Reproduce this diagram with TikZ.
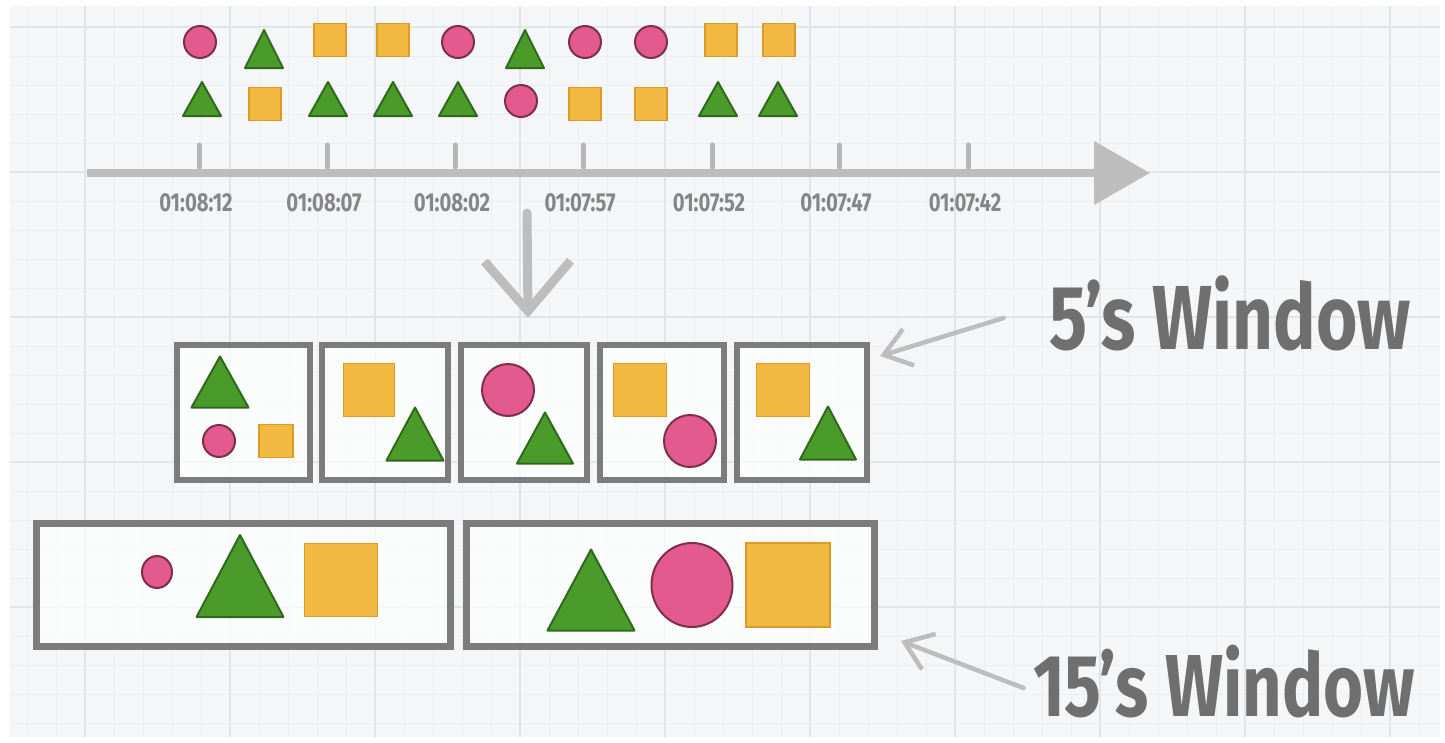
\documentclass[tikz,border=0pt]{standalone}
\usepackage{fontspec}
\newfontfamily\handfont[FakeStretch=0.78]{Fira Sans}
\usetikzlibrary{arrows.meta,shapes.geometric,calc}

\definecolor{paper}{HTML}{F4F6F8}
\definecolor{gridmajor}{HTML}{DEE5EB}
\definecolor{gridminor}{HTML}{EBEFF3}
\definecolor{dotpink}{HTML}{E35A8E}
\definecolor{dotedge}{HTML}{7E2F4E}
\definecolor{trigreen}{HTML}{4B9B2A}
\definecolor{triedge}{HTML}{2F6A1C}
\definecolor{sqyellow}{HTML}{F2B942}
\definecolor{sqedge}{HTML}{DE9A22}
\definecolor{pencil}{HTML}{7C7C7C}
\definecolor{chalk}{HTML}{BDBDBD}
\definecolor{inkgray}{HTML}{6F6F6F}

\tikzset{
  pinkdot/.style={ellipse, draw=dotedge, fill=dotpink, line width=2pt, inner sep=0pt},
  yellowsq/.style={rectangle, draw=sqedge, fill=sqyellow, line width=1.5pt, inner sep=0pt},
  greentri/.style={draw=triedge, fill=trigreen, line width=2pt, line join=round},
  winbox/.style={rectangle, draw=pencil, line width=6pt, fill=white, fill opacity=0.7, inner sep=0pt},
  ticklabel/.style={text=gray!95, font=\handfont\bfseries\fontsize{26}{26}\selectfont},
  bigtext/.style={text=inkgray, font=\handfont\bfseries\fontsize{91}{91}\selectfont},
  callout/.style={draw=chalk, line width=4.5pt, line cap=round, -{Straight Barb[length=26pt,width=38pt]}},
}

% triangle: centre x, centre y, base, height
\newcommand{\tri}[4]{\draw[greentri] ({#1-#3/2},{#2+#4/2}) -- (#1,{#2-#4/2}) -- ({#1+#3/2},{#2+#4/2}) -- cycle;}

\begin{document}
\begin{tikzpicture}[x=1pt,y=-1pt]
  \useasboundingbox (0,0) rectangle (1445,742);
  % paper
  \fill[white] (0,0) rectangle (1445,742);
  \fill[paper] (10,6) rectangle (1440,737);
  \foreach \k in {-2,...,46}
    \draw[gridminor, line width=0.8pt] ({85+29*\k},6) -- ({85+29*\k},737);
  \foreach \k in {0,...,24}
    \draw[gridminor, line width=0.8pt] (10,{27+29*\k}) -- (1440,{27+29*\k});
  \foreach \k in {0,...,9}
    \draw[gridmajor, line width=1.2pt] ({85+145*\k},6) -- ({85+145*\k},737);
  \foreach \k in {0,...,4}
    \draw[gridmajor, line width=1.2pt] (10,{27+145*\k}) -- (1440,{27+145*\k});

  % incoming events
  \foreach \x [count=\i] in {200,458,585,651}
    \node[pinkdot, minimum width=32pt, minimum height=32pt] (rowa-c\i) at (\x,42) {};
  \foreach \x [count=\i] in {330,393,721,779}
    \node[yellowsq, minimum width=32pt, minimum height=33pt] (rowa-s\i) at (\x,40) {};
  \foreach \x in {264,525}
    {\tri{\x}{49}{38}{38}}
  \node[pinkdot, minimum width=32pt, minimum height=32pt] (rowb-c1) at (521,101) {};
  \foreach \x [count=\i] in {265,585,651}
    \node[yellowsq, minimum width=32pt, minimum height=33pt] (rowb-s\i) at (\x,104) {};
  \foreach \x in {202,328,393,458,718,778}
    {\tri{\x}{99}{38}{34}}

  % time axis
  \coordinate (axis-start) at (87,173);
  \coordinate (axis-end) at (1150,173);
  \draw[chalk, line width=8pt, -{Triangle[length=56pt,width=62pt]}] (axis-start) -- (axis-end);
  \foreach \x/\t [count=\i] in {199/01:08:12,327/01:08:07,455/01:08:02,583/01:07:57,712/01:07:52,839/01:07:47,968/01:07:42}{
    \draw[chalk!110, line width=5pt, line cap=round] (\x,145) -- (\x,167);
    \node[ticklabel] (stamp\i) at (\x-3,203) {\t};
  }

  % windowing arrow
  \coordinate (split-top) at (527,213);
  \coordinate (split-tip) at (528,318);
  \draw[chalk, line width=9pt, line cap=round, -{Straight Barb[length=50pt,width=86pt]}] (split-top) -- (split-tip);

  % 5 second windows
  \node[winbox, minimum width=133pt, minimum height=135pt] (win1) at (243,412) {};
  \node[winbox, minimum width=126pt, minimum height=135pt] (win2) at (385,412) {};
  \node[winbox, minimum width=126pt, minimum height=135pt] (win3) at (524,412) {};
  \node[winbox, minimum width=124pt, minimum height=135pt] (win4) at (662,412) {};
  \node[winbox, minimum width=130pt, minimum height=135pt] (win5) at (802,412) {};

  \tri{220}{382}{57}{51}
  \node[pinkdot, minimum width=32pt, minimum height=32pt] (win1-c) at (219,441) {};
  \node[yellowsq, minimum width=34pt, minimum height=33pt] (win1-s) at (276,441) {};
  \node[yellowsq, minimum width=51pt, minimum height=53pt] (win2-s) at (369,390) {};
  \tri{415}{434}{57}{53}
  \node[pinkdot, minimum width=52pt, minimum height=52pt] (win3-c) at (508,390) {};
  \tri{545}{438}{56}{51}
  \node[yellowsq, minimum width=53pt, minimum height=53pt] (win4-s) at (640,390) {};
  \node[pinkdot, minimum width=52pt, minimum height=52pt] (win4-c) at (690,441) {};
  \node[yellowsq, minimum width=53pt, minimum height=53pt] (win5-s) at (783,390) {};
  \tri{828}{433}{56}{53}

  % 15 second windows
  \node[winbox, line width=7pt, minimum width=414pt, minimum height=123pt] (longa) at (243.5,585) {};
  \node[winbox, line width=7pt, minimum width=408pt, minimum height=123pt] (longb) at (670.5,585) {};

  \node[pinkdot, minimum width=30pt, minimum height=32pt] (longa-c) at (157,572) {};
  \tri{240}{576}{87}{82}
  \node[yellowsq, minimum width=73pt, minimum height=73pt] (longa-s) at (341,580) {};
  \tri{591}{590}{87}{81}
  \node[pinkdot, minimum width=81pt, minimum height=84pt] (longb-c) at (692,585) {};
  \node[yellowsq, minimum width=84pt, minimum height=84pt] (longb-s) at (788,585) {};

  % labels
  \node[bigtext] (lab5) at (1230,313) {5’s Window};
  \node[bigtext, font=\handfont\bfseries\fontsize{88}{88}\selectfont] (lab15) at (1224,682) {15’s Window};
  \coordinate (tip5) at (880,356);
  \coordinate (tip15) at (901,641);
  \draw[callout] ($(lab5.west)+(-42,5)$) -- (tip5);
  \draw[callout] ($(lab15.west)+(-6,6)$) -- (tip15);
\end{tikzpicture}
\end{document}
